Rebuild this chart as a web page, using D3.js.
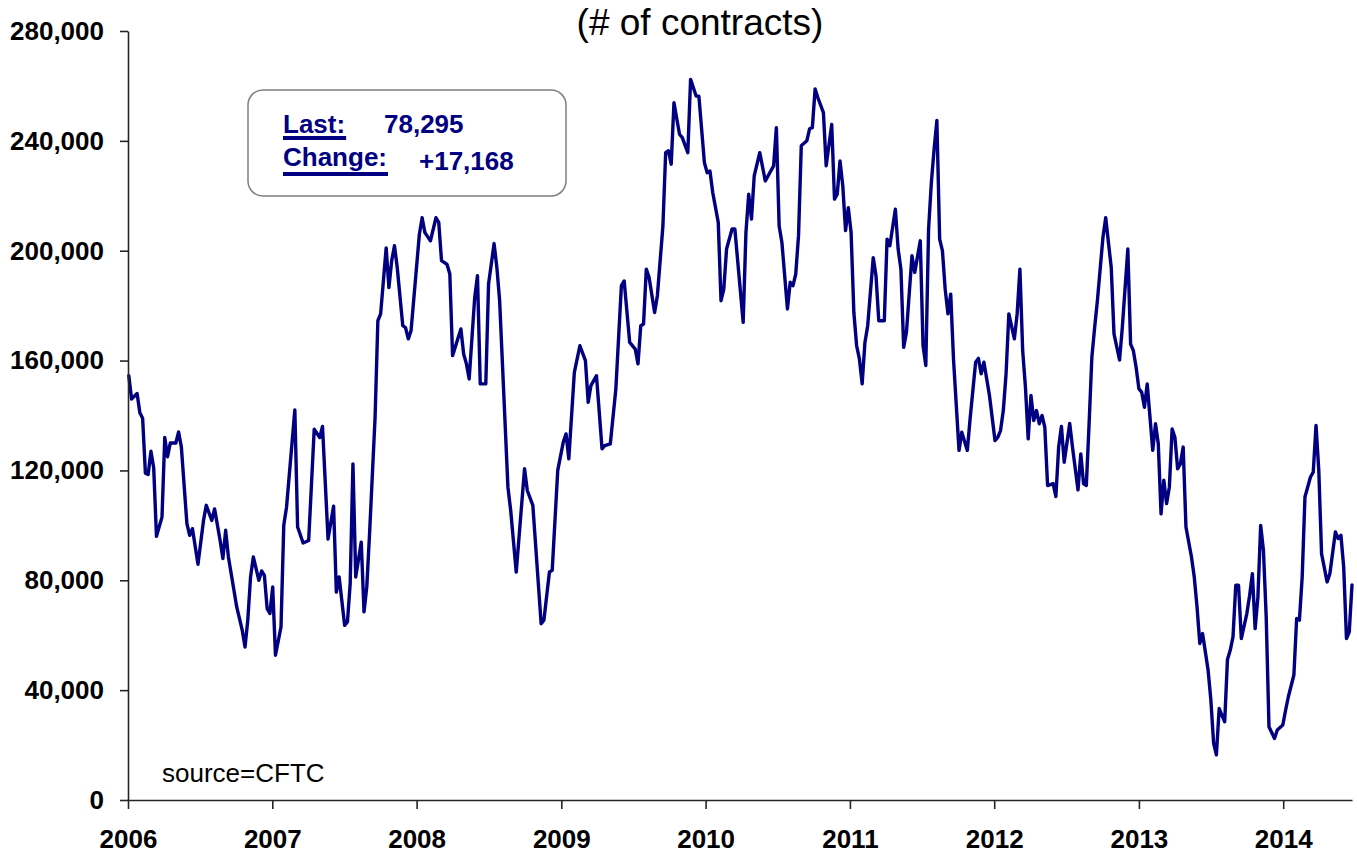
<!DOCTYPE html>
<html>
<head>
<meta charset="utf-8">
<script src="https://cdn.jsdelivr.net/npm/d3@7"></script>
<style>
  html, body { margin: 0; padding: 0; background: #fff; }
  svg { display: block; font-family: 'Liberation Sans', Arial, sans-serif; }
</style>
</head>
<body>
<svg id="chart"></svg>
<script>
const width = 1357,
    height = 853;

// weekly CFTC reports, counted in weeks from the first Tuesday of 2006
const weeks = [
    0, 1, 3, 4, 5, 6, 7, 8, 9, 10, 12, 13, 14, 15, 17, 18, 19, 21, 22, 23, 25, 27, 28, 30, 31, 33, 34, 35, 36, 39,
    41, 42, 43, 44, 45, 47, 48, 49, 50, 51, 52, 53, 55, 56, 57, 60, 61, 63, 65, 67, 69, 70, 72, 74, 75, 76, 78, 79,
    80, 81, 82, 84, 85, 86, 87, 89, 90, 91, 93, 94, 95, 96, 97, 99, 100, 101, 102, 105, 106, 107, 109, 111, 112, 113,
    115, 116, 117, 120, 121, 122, 123, 125, 126, 127, 129, 130, 132, 133, 134, 137, 138, 140, 143, 144, 146, 149, 150,
    152, 153, 155, 157, 158, 159, 161, 163, 165, 166, 167, 169, 171, 172, 174, 176, 178, 179, 181, 183, 184, 185, 186,
    187, 188, 190, 191, 193, 194, 195, 196, 197, 199, 200, 202, 203, 205, 206, 208, 209, 210, 211, 213, 214, 215, 216,
    218, 219, 222, 223, 224, 225, 226, 228, 230, 233, 234, 235, 236, 238, 239, 240, 241, 242, 243, 245, 246, 247, 248,
    249, 251, 252, 254, 255, 256, 257, 258, 259, 260, 261, 262, 263, 264, 265, 266, 267, 269, 270, 271, 273, 274, 275,
    277, 278, 279, 280, 281, 283, 284, 286, 287, 288, 289, 290, 291, 292, 293, 294, 295, 296, 297, 298, 300, 301, 303,
    304, 306, 307, 308, 309, 311, 313, 314, 315, 316, 317, 318, 320, 321, 322, 323, 324, 325, 326, 327, 328, 329, 330,
    331, 332, 334, 335, 336, 337, 338, 340, 341, 343, 344, 345, 346, 347, 348, 349, 350, 352, 353, 355, 356, 358, 359,
    361, 362, 363, 364, 365, 366, 367, 368, 370, 371, 372, 373, 374, 375, 376, 377, 378, 379, 380, 381, 382, 384, 385,
    386, 387, 388, 390, 391, 392, 393, 394, 396, 397, 398, 399, 400, 401, 402, 404, 405, 406, 407, 408, 409, 410, 411,
    412, 414, 415, 417, 418, 419, 421, 422, 423, 424, 425, 427, 428, 429, 430, 431, 433, 434, 436, 437, 438, 439, 440,
    441, 442,
];

// net positions (# of contracts)
const positions = [
    154500, 146000, 148000, 141000, 139000, 119000, 118500, 127000, 121000, 96000, 103000, 132000, 125000, 130000,
    130000, 134000, 128500, 100600, 96400, 98800, 85800, 101800, 107300, 101800, 106000, 94500, 87900, 98200, 88500,
    70300, 61800, 55700, 65500, 81200, 88500, 80000, 83400, 81800, 69700, 67900, 77600, 52700, 63000, 100000, 106600,
    142000, 99400, 93600, 94500, 135000, 132000, 136000, 95000, 107000, 75700, 81200, 63600, 64800, 78800, 122400,
    81200, 93900, 68500, 77600, 97000, 139400, 174500, 177000, 201000, 186600, 196400, 201800, 193900, 172700, 172000,
    167900, 170900, 206000, 212000, 206600, 203600, 212000, 210300, 196400, 195000, 191500, 161800, 171500, 162400,
    158800, 153300, 183000, 190900, 151500, 151500, 187900, 202600, 193900, 181800, 113900, 105400, 83000, 120600,
    112700, 107300, 64200, 65500, 83000, 83600, 120000, 130300, 133300, 124200, 155700, 165400, 160000, 144800, 150900,
    154500, 127900, 129000, 129700, 149700, 187300, 189000, 166600, 164200, 158800, 172700, 173300, 193300, 190300,
    177500, 183600, 209000, 235700, 236400, 231500, 253900, 242400, 241200, 235700, 262400, 256300, 256300, 232000,
    228400, 229000, 221200, 210300, 181800, 186000, 200600, 207900, 207900, 173900, 206600, 220600, 211500, 227300,
    235700, 225400, 230900, 244800, 209000, 203000, 178800, 188500, 187300, 191500, 205400, 238200, 240000, 244400,
    244800, 258900, 255700, 250300, 230900, 246000, 218800, 220600, 232700, 223600, 207300, 215700, 206600, 177500,
    165400, 160600, 151500, 166600, 172700, 197500, 190900, 174500, 174500, 204200, 201800, 215100, 200600, 193300,
    164800, 170300, 198200, 192100, 203600, 165400, 158200, 207900, 224800, 237000, 247400, 204200, 200000, 186000,
    177000, 184200, 160600, 127300, 133900, 127300, 138800, 159400, 160800, 155200, 159400, 147300, 130900, 132000,
    134500, 141800, 155200, 177000, 167900, 177000, 193300, 163600, 150300, 131500, 147300, 138200, 141800, 137000,
    140000, 135700, 114500, 115200, 110500, 128500, 136000, 123000, 137100, 128500, 112900, 126000, 115200, 114500,
    137000, 161200, 172000, 181800, 204800, 212000, 193900, 169700, 160200, 172000, 200600, 166000, 163600, 157500,
    149700, 148500, 143000, 151500, 127300, 137000, 129700, 104200, 116400, 107900, 113900, 135100, 132100, 120600,
    122400, 128500, 99400, 88500, 81200, 70300, 57000, 60600, 47300, 36400, 20600, 16400, 33300, 28500, 51200, 54500,
    59400, 78200, 78200, 58800, 67900, 74500, 82400, 62400, 73900, 100000, 90900, 66600, 26700, 22400, 25500, 27300,
    32700, 37600, 45500, 66100, 65500, 81200, 110300, 117600, 119400, 136400, 120000, 89700, 79400, 82400, 97600,
    95200, 96400, 84800, 58800, 61127, 78295,
];

const yTicks = [0, 40000, 80000, 120000, 160000, 200000, 240000, 280000];
const xTicks = [2006, 2007, 2008, 2009, 2010, 2011, 2012, 2013, 2014];

const startDate = new Date(2006, 0, 3);
const data = weeks.map((w, i) => ({ date: d3.timeDay.offset(startDate, w * 7), value: positions[i] }));

const svg = d3.select('#chart').attr('width', width).attr('height', height);

const x = d3
    .scaleTime()
    .domain([new Date(2006, 0, 1), d3.max(data, (d) => d.date)])
    .range([128, 1352]);

const y = d3.scaleLinear().domain([0, 280000]).range([800, 31]);

// series line
const line = d3
    .line()
    .x((d) => x(d.date))
    .y((d) => y(d.value));

svg.append('path')
    .datum(data)
    .attr('fill', 'none')
    .attr('stroke', '#000080')
    .attr('stroke-width', 3.4)
    .attr('stroke-linejoin', 'round')
    .attr('stroke-linecap', 'round')
    .attr('d', line);

// y axis
const yAxis = svg
    .append('g')
    .attr('transform', 'translate(128,0)')
    .call(
        d3
            .axisLeft(y)
            .tickValues(yTicks)
            .tickSize(8)
            .tickSizeOuter(0)
            .tickPadding(16)
            .tickFormat(d3.format(',')),
    );

// x axis
const xAxis = svg
    .append('g')
    .attr('transform', 'translate(0,800)')
    .call(
        d3
            .axisBottom(x)
            .tickValues(xTicks.map((yr) => new Date(yr, 0, 1)))
            .tickSize(9)
            .tickSizeOuter(0)
            .tickPadding(21)
            .tickFormat(d3.timeFormat('%Y')),
    );

[yAxis, xAxis].forEach((g) => {
    g.select('.domain').attr('stroke', '#262626').attr('stroke-width', 1.6);
    g.selectAll('.tick line').attr('stroke', '#262626').attr('stroke-width', 1.6);
    g.selectAll('.tick text')
        .attr('fill', '#000')
        .style('font-size', '26px')
        .style('font-weight', 'bold')
        .style('font-family', "'Liberation Sans', Arial, sans-serif");
});

// title
svg.append('text')
    .attr('x', 700)
    .attr('y', 35)
    .attr('text-anchor', 'middle')
    .style('font-size', '37px')
    .attr('fill', '#000')
    .text('(# of contracts)');

// source
svg.append('text')
    .attr('x', 162)
    .attr('y', 782)
    .style('font-size', '26px')
    .attr('fill', '#000')
    .text('source=CFTC');

// last / change box
const last = positions[positions.length - 1],
    change = last - positions[positions.length - 2];

const box = svg.append('g');

box.append('rect')
    .attr('x', 248)
    .attr('y', 90)
    .attr('width', 318)
    .attr('height', 106)
    .attr('rx', 15)
    .attr('fill', '#fff')
    .attr('stroke', '#7f7f7f')
    .attr('stroke-width', 1.5);

const rows = [
    { label: 'Last:', value: d3.format(',')(last), y: 133, vx: 384, vy: 133, uy: 138 },
    { label: 'Change:', value: (change >= 0 ? '+' : '') + d3.format(',')(change), y: 166, vx: 419, vy: 170, uy: 174 },
];

rows.forEach((r) => {
    const t = box
        .append('text')
        .attr('x', 283)
        .attr('y', r.y)
        .attr('fill', '#000080')
        .style('font-size', '26px')
        .style('font-weight', 'bold')
        .text(r.label);
    const w = t.node().getComputedTextLength();
    box.append('line')
        .attr('x1', 283)
        .attr('x2', 283 + w + 1)
        .attr('y1', r.uy)
        .attr('y2', r.uy)
        .attr('stroke', '#000080')
        .attr('stroke-width', 4);
    box.append('text')
        .attr('x', r.vx)
        .attr('y', r.vy)
        .attr('fill', '#000080')
        .style('font-size', '26px')
        .style('font-weight', 'bold')
        .text(r.value);
});
</script>
</body>
</html>
